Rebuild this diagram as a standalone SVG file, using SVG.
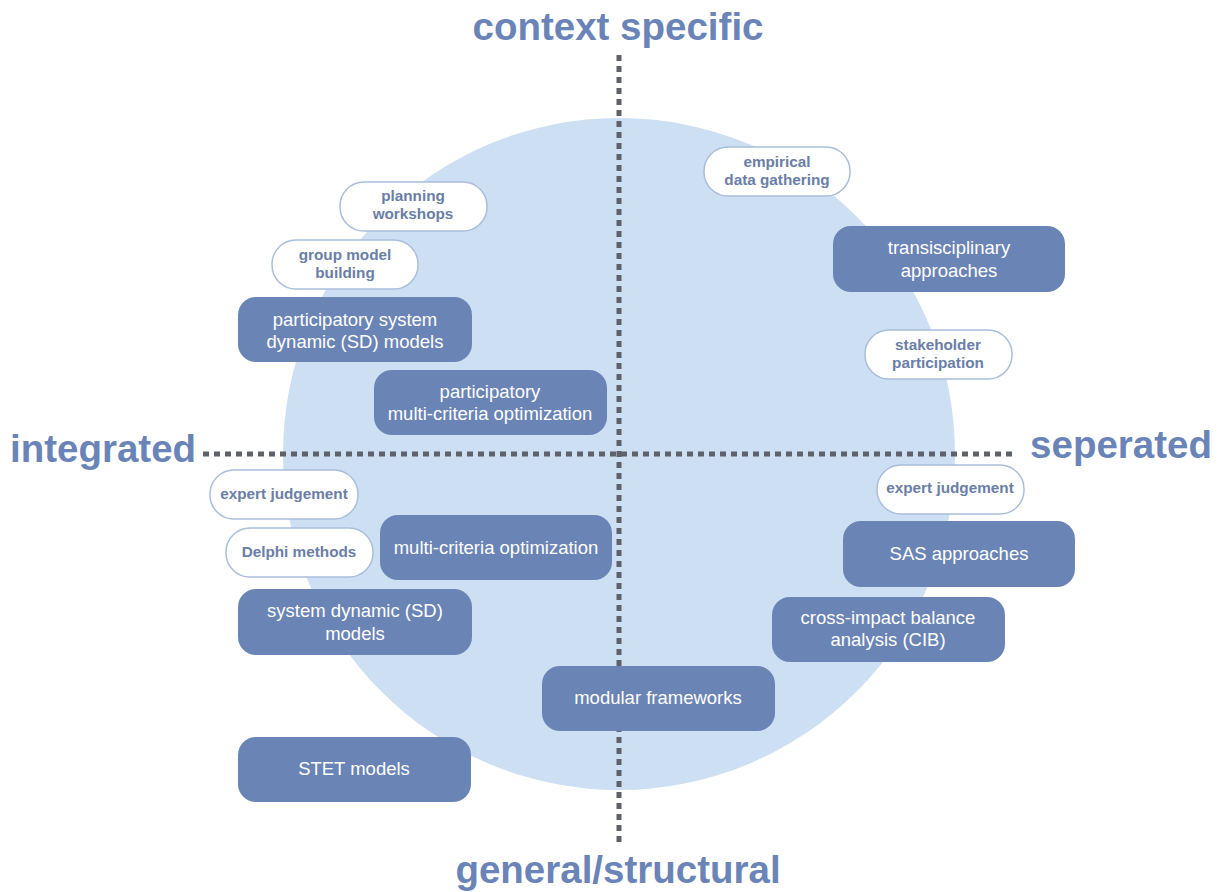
<svg xmlns="http://www.w3.org/2000/svg" width="1220" height="892" viewBox="0 0 1220 892">
<style>
.axis{font-family:"Liberation Sans",Arial,sans-serif;font-weight:bold;font-size:38.5px;fill:#6a84b8}
.dark rect{fill:#6a84b5}
.dark text{font-family:"Liberation Sans",Arial,sans-serif;font-size:18.5px;fill:#ffffff;text-anchor:middle}
.light rect{fill:#ffffff;stroke:#a9bedc;stroke-width:1.5}
.light text{font-family:"Liberation Sans",Arial,sans-serif;font-weight:bold;font-size:15.3px;fill:#6a7ea6;text-anchor:middle}
.dash{stroke:#5e6169;stroke-width:5;stroke-dasharray:6 5;fill:none}
</style>
<rect width="1220" height="892" fill="#ffffff"/>
<circle cx="619" cy="454" r="336" fill="#cddff3"/>
<g id="connectors">
<line class="dash" x1="619" y1="55" x2="619" y2="842"/>
<line class="dash" x1="203" y1="454" x2="1016" y2="454"/>
</g>
<text class="axis" x="618" y="40" text-anchor="middle">context specific</text>
<text class="axis" x="10" y="462">integrated</text>
<text class="axis" x="1212" y="458" text-anchor="end">seperated</text>
<text class="axis" x="618" y="883" text-anchor="middle">general/structural</text>
<g id="planning" class="light"><rect x="340" y="182" width="147" height="49" rx="24"/><text x="413" y="201">planning</text><text x="413" y="219">workshops</text></g>
<g id="gmb" class="light"><rect x="272" y="240" width="146" height="49" rx="24"/><text x="345" y="260">group model</text><text x="345" y="278">building</text></g>
<g id="psd" class="dark"><rect x="238" y="297" width="234" height="65" rx="18"/><text x="355" y="326">participatory system</text><text x="355" y="348">dynamic (SD) models</text></g>
<g id="pmco" class="dark"><rect x="374" y="370" width="233" height="65" rx="18"/><text x="490" y="398">participatory</text><text x="490" y="420">multi-criteria optimization</text></g>
<g id="edg" class="light"><rect x="704" y="147" width="146" height="49" rx="24"/><text x="777" y="167">empirical</text><text x="777" y="185">data gathering</text></g>
<g id="trans" class="dark"><rect x="833" y="226" width="232" height="66" rx="18"/><text x="949" y="254">transisciplinary</text><text x="949" y="277">approaches</text></g>
<g id="stake" class="light"><rect x="865" y="330" width="147" height="49" rx="24"/><text x="938" y="350">stakeholder</text><text x="938" y="368">participation</text></g>
<g id="ej1" class="light"><rect x="210" y="470" width="148" height="49" rx="24"/><text x="284" y="499">expert judgement</text></g>
<g id="delphi" class="light"><rect x="226" y="528" width="147" height="49" rx="24"/><text x="299" y="557">Delphi methods</text></g>
<g id="mco" class="dark"><rect x="380" y="515" width="232" height="65" rx="18"/><text x="496" y="554">multi-criteria optimization</text></g>
<g id="sd" class="dark"><rect x="238" y="589" width="234" height="66" rx="18"/><text x="355" y="617">system dynamic (SD)</text><text x="355" y="640">models</text></g>
<g id="ej2" class="light"><rect x="877" y="465" width="147" height="49" rx="24"/><text x="950" y="493">expert judgement</text></g>
<g id="sas" class="dark"><rect x="843" y="521" width="232" height="66" rx="18"/><text x="959" y="560">SAS approaches</text></g>
<g id="cib" class="dark"><rect x="772" y="597" width="233" height="65" rx="18"/><text x="888" y="624">cross-impact balance</text><text x="888" y="646">analysis (CIB)</text></g>
<g id="modular" class="dark"><rect x="542" y="666" width="233" height="65" rx="18"/><text x="658" y="704">modular frameworks</text></g>
<g id="stet" class="dark"><rect x="238" y="737" width="233" height="65" rx="18"/><text x="354" y="775">STET models</text></g>
</svg>
